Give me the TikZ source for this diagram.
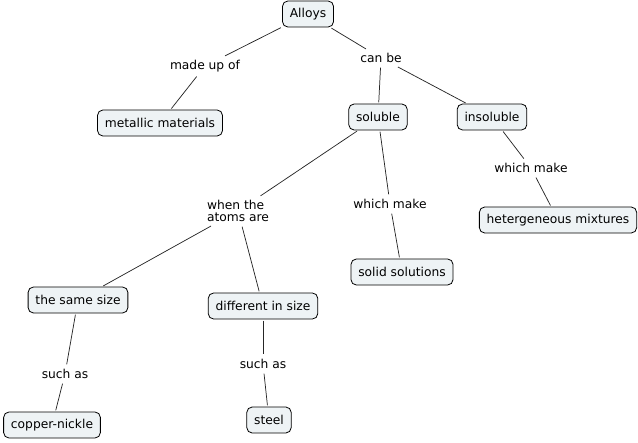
\documentclass[tikz,border=0pt]{standalone}
\usepackage{fontspec}
\setmainfont{DejaVu Sans}
\definecolor{boxfill}{HTML}{EEF3F5}
\tikzset{
	concept/.style={draw=black, fill=boxfill, rounded corners=4pt, line width=0.6pt, inner xsep=5.5pt, minimum height=19.5pt, font=\fontsize{9.2}{11}\selectfont},
	linkword/.style={inner sep=2.5pt, font=\fontsize{9.2}{11}\selectfont, align=left},
	link/.style={line width=0.55pt, black!85}
}
\begin{document}
\begin{tikzpicture}[x=0.75pt,y=-0.75pt]
	\useasboundingbox (0,0) rectangle (638,442);
	
	\node[concept] (alloys) at (308,14) {Alloys};
	\node[linkword] (madeof) at (205,66) {made up of};
	\node[concept] (metallic) at (160,123) {metallic materials};
	\node[linkword] (canbe) at (381,58) {can be};
	\node[concept] (soluble) at (378,117) {soluble};
	\node[concept] (insoluble) at (492,117) {insoluble};
	\node[linkword] (makeA) at (531,168) {which make};
	\node[concept] (hetero) at (558,220) {hetergeneous mixtures};
	\node[linkword] (whenatoms) at (238,211) {when the\\[-2pt]atoms are};
	\node[linkword] (makeB) at (390,204) {which make};
	\node[concept] (solid) at (402,272) {solid solutions};
	\node[concept] (samesize) at (78,300) {the same size};
	\node[concept] (diffsize) at (263,306) {different in size};
	\node[linkword] (suchA) at (65,374) {such as};
	\node[linkword] (suchB) at (263,364) {such as};
	\node[concept] (copper) at (52,425) {copper-nickle};
	\node[concept] (steel) at (269,420) {steel};
	
	\foreach \a/\b in {alloys/madeof, madeof/metallic, alloys/canbe, canbe/soluble, canbe/insoluble, insoluble/makeA, makeA/hetero, soluble/whenatoms, soluble/makeB, makeB/solid, whenatoms/samesize, whenatoms/diffsize, samesize/suchA, suchA/copper, diffsize/suchB, suchB/steel} {
		\draw[link, shorten <=1pt, shorten >=1pt] (\a) -- (\b);
	}
\end{tikzpicture}
\end{document}
